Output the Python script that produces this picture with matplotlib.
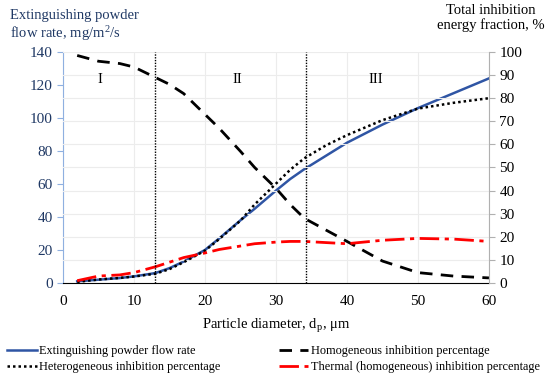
import numpy as np
import matplotlib
matplotlib.use('Agg')
import matplotlib.pyplot as plt

plt.rcParams['font.family'] = ['Liberation Serif', 'DejaVu Serif']
plt.rcParams['mathtext.fontset'] = 'stix'

d = [2, 5, 8, 10, 13, 15, 17, 20, 22, 25, 27, 30, 32, 34, 37, 40, 45, 50, 55, 60]
flow = [1, 2, 3, 4, 6, 9, 13, 20, 27, 38, 45, 56, 63, 69, 77, 85, 96, 106, 115, 124]
hetero = [0.5, 1.5, 2.2, 2.8, 4, 6, 9, 14, 19, 27, 34, 43, 49, 54, 59.5, 64, 70.5, 75.5, 78, 80]
homo = [98.5, 96, 95, 93.5, 89, 86, 82, 73, 67, 57, 50, 41, 34, 28, 23, 18, 9.5, 4.5, 3, 2.2]
thermal = [1, 3, 3.5, 4.5, 7, 9, 11, 13, 14.5, 16, 17, 17.7, 18, 18, 17.5, 17, 18.5, 19.3, 19, 18]

borders = [13, 34.3]
zones = ['I', 'II', 'III']
zone_x = [5.2, 24.5, 44]

blue = '#2f55a4'
navy = '#1f3864'

fig = plt.figure(figsize=(5.5, 3.73), dpi=100)
ax = fig.add_axes([0.1145, 0.2413, 0.7745, 0.6193])
ax2 = ax.twinx()

ax.set_xlim(0, 60)
ax.set_ylim(0, 140)
ax2.set_ylim(0, 100)
ax.set_xticks(range(0, 61, 10))
ax.set_yticks(range(0, 141, 20))
ax2.set_yticks(range(0, 101, 10))

ax.grid(axis='x', color='#ececec', lw=0.8)
ax2.grid(axis='y', color='#ececec', lw=0.8)
ax.set_axisbelow(True)
ax2.set_axisbelow(True)

l1, = ax.plot(d, flow, color=blue, lw=1.8, label='Extinguishing powder flow rate', zorder=3)
l2, = ax2.plot(d, homo, color='black', lw=2, dashes=(4.5, 3), label='Homogeneous inhibition percentage')
l3, = ax2.plot(d, hetero, color='black', lw=1.8, dashes=(1, 1.2), label='Heterogeneous inhibition percentage')
l4, = ax2.plot(d, thermal, color='red', lw=2, dashes=(7, 2, 1.5, 2), label='Thermal (homogeneous) inhibition percentage')

for b in borders:
    ax2.axvline(b, color='black', lw=1, ls=(0, (1, 1)))
for z, zx in zip(zones, zone_x):
    ax2.text(zx, 88, z, ha='center', va='center', fontsize=10.5)

for s in ['top']:
    ax.spines[s].set_visible(False)
    ax2.spines[s].set_visible(False)
ax2.spines['left'].set_visible(False)
ax.spines['left'].set_color('#8fb0e0')
ax.spines['right'].set_visible(False)
ax2.spines['right'].set_color('#b0b0b0')
ax2.spines['bottom'].set_visible(False)
ax.spines['bottom'].set_color('black')

ax.tick_params(axis='y', colors='#8fb0e0', labelcolor=navy, labelsize=11, length=4)
ax.tick_params(axis='x', length=0, labelsize=11, pad=9)
ax2.tick_params(axis='y', colors='#b0b0b0', labelcolor='black', labelsize=11, length=4)

ax.set_xlabel('Particle diameter, d$_\\mathregular{p}$, μm', fontsize=10.5, labelpad=6)
fig.text(0.018, 0.975, 'Extinguishing powder\nflow rate, mg/m$^\\mathregular{2}$/s',
         ha='left', va='top', fontsize=10.5, color=navy, linespacing=1.1)
fig.text(0.893, 0.99, 'Total inhibition\nenergy fraction, %',
         ha='center', va='top', fontsize=10.5, color='black', linespacing=1.1)

fig.legend(handles=[l1, l3, l2, l4], loc='lower left', bbox_to_anchor=(0.0, -0.02),
           ncol=2, frameon=False, fontsize=8.8, handlelength=2.4, handletextpad=0.2,
           columnspacing=4.8, labelspacing=0.3, borderaxespad=0.2)

fig.savefig('out.png', dpi=100)
